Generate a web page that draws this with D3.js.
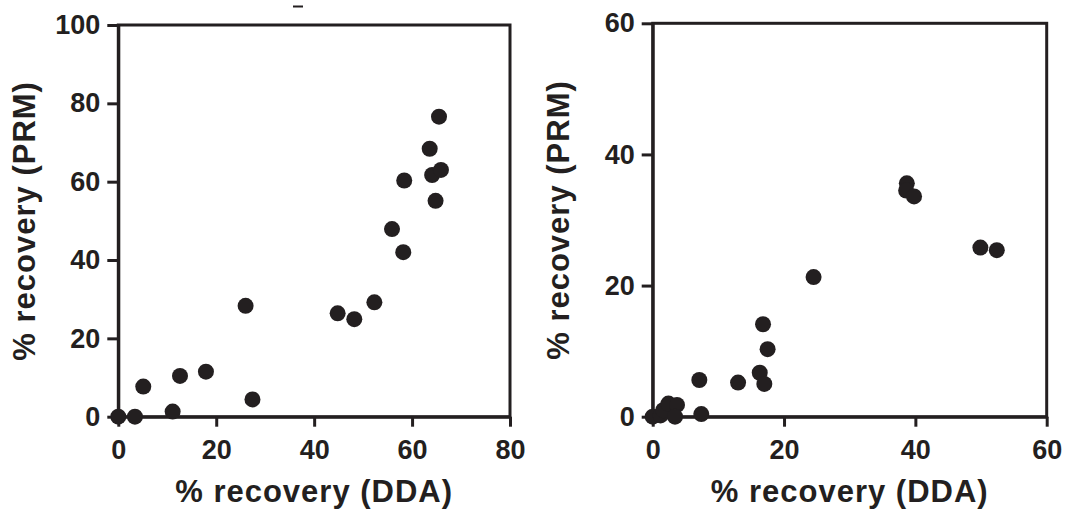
<!DOCTYPE html>
<html>
<head>
<meta charset="utf-8">
<script src="https://cdn.jsdelivr.net/npm/d3@7"></script>
<style>
  body { margin: 0; background: #fff; }
  svg text { font-family: "Liberation Sans", Arial, sans-serif; font-weight: bold; fill: #231f20; }
</style>
</head>
<body>
<div id="plot"></div>
<script>
// left panel: DDA vs PRM recovery
const leftDDA = [0, 3.4, 5.1, 11.1, 12.6, 17.9, 26.0, 27.4, 44.8, 48.2, 52.3, 55.9, 58.2, 58.4, 63.6, 64.1, 65.9, 64.8, 65.5];
const leftPRM = [0, 0, 7.7, 1.3, 10.4, 11.5, 28.3, 4.4, 26.4, 24.9, 29.2, 47.9, 42.0, 60.3, 68.4, 61.7, 63.0, 55.1, 76.6];
const leftXTicks = [0, 20, 40, 60, 80];
const leftYTicks = [0, 20, 40, 60, 80, 100];

// right panel
const rightDDA = [0, 1.2, 1.6, 2.4, 3.7, 3.4, 7.1, 7.4, 13.0, 16.3, 17.0, 16.8, 17.5, 24.5, 38.7, 38.6, 39.8, 49.9, 52.4];
const rightPRM = [0, 0.2, 1.0, 2.0, 1.8, 0, 5.6, 0.4, 5.2, 6.7, 5.0, 14.1, 10.3, 21.3, 35.6, 34.5, 33.6, 25.8, 25.4];
const rightXTicks = [0, 20, 40, 60];
const rightYTicks = [0, 20, 40, 60];

const ink = "#231f20";

var svg = d3.select("#plot")
            .append("svg")
            .attr("width", 1065)
            .attr("height", 512);

function panel(xs, ys, xTicks, yTicks, box, yLabelX) {
    const x = d3.scaleLinear()
                .domain([0, d3.max(xTicks)])
                .range([box.left, box.right]);
    const y = d3.scaleLinear()
                .domain([0, d3.max(yTicks)])
                .range([box.bottom, box.top]);

    // frame
    svg.append("rect")
       .attr("x", box.left)
       .attr("y", box.top)
       .attr("width", box.right - box.left)
       .attr("height", box.bottom - box.top)
       .attr("fill", "none")
       .attr("stroke", ink)
       .attr("stroke-width", 3);

    const gx = svg.append("g")
       .attr("transform", "translate(0," + box.bottom + ")")
       .call(d3.axisBottom(x).tickValues(xTicks).tickSize(10).tickSizeOuter(0).tickPadding(13));
    const gy = svg.append("g")
       .attr("transform", "translate(" + box.left + ",0)")
       .call(d3.axisLeft(y).tickValues(yTicks).tickSize(11).tickSizeOuter(0).tickPadding(7));

    [gx, gy].forEach(g => {
        g.select(".domain").attr("stroke", ink).attr("stroke-width", 3);
        g.selectAll(".tick line").attr("stroke", ink).attr("stroke-width", 3);
        g.selectAll(".tick text")
         .attr("font-size", 27)
         .attr("fill", ink)
         .attr("font-family", "Liberation Sans, Arial, sans-serif")
         .attr("font-weight", "bold");
    });

    // points
    svg.append("g")
       .selectAll("circle")
       .data(xs.map((d, i) => [d, ys[i]]))
       .enter()
       .append("circle")
       .attr("cx", d => x(d[0]))
       .attr("cy", d => y(d[1]))
       .attr("r", 8)
       .attr("fill", ink);

    // axis titles
    svg.append("text")
       .attr("x", (box.left + box.right) / 2)
       .attr("y", 502)
       .attr("text-anchor", "middle")
       .attr("font-size", 31)
       .attr("letter-spacing", 1)
       .text("% recovery (DDA)");

    svg.append("text")
       .attr("transform", "translate(" + yLabelX + "," + (box.top + box.bottom) / 2 + ")rotate(-90)")
       .attr("text-anchor", "middle")
       .attr("font-size", 31)
       .attr("letter-spacing", 1)
       .text("% recovery (PRM)");
}

panel(leftDDA, leftPRM, leftXTicks, leftYTicks,
      {left: 118.3, right: 510, top: 25, bottom: 416.7}, 35);
panel(rightDDA, rightPRM, rightXTicks, rightYTicks,
      {left: 652.7, right: 1046.7, top: 23.3, bottom: 416.7}, 569);

// small stray mark at the top of the original figure
svg.append("line")
   .attr("x1", 293).attr("x2", 303)
   .attr("y1", 6.5).attr("y2", 6.5)
   .attr("stroke", ink)
   .attr("stroke-width", 2);
</script>
</body>
</html>
